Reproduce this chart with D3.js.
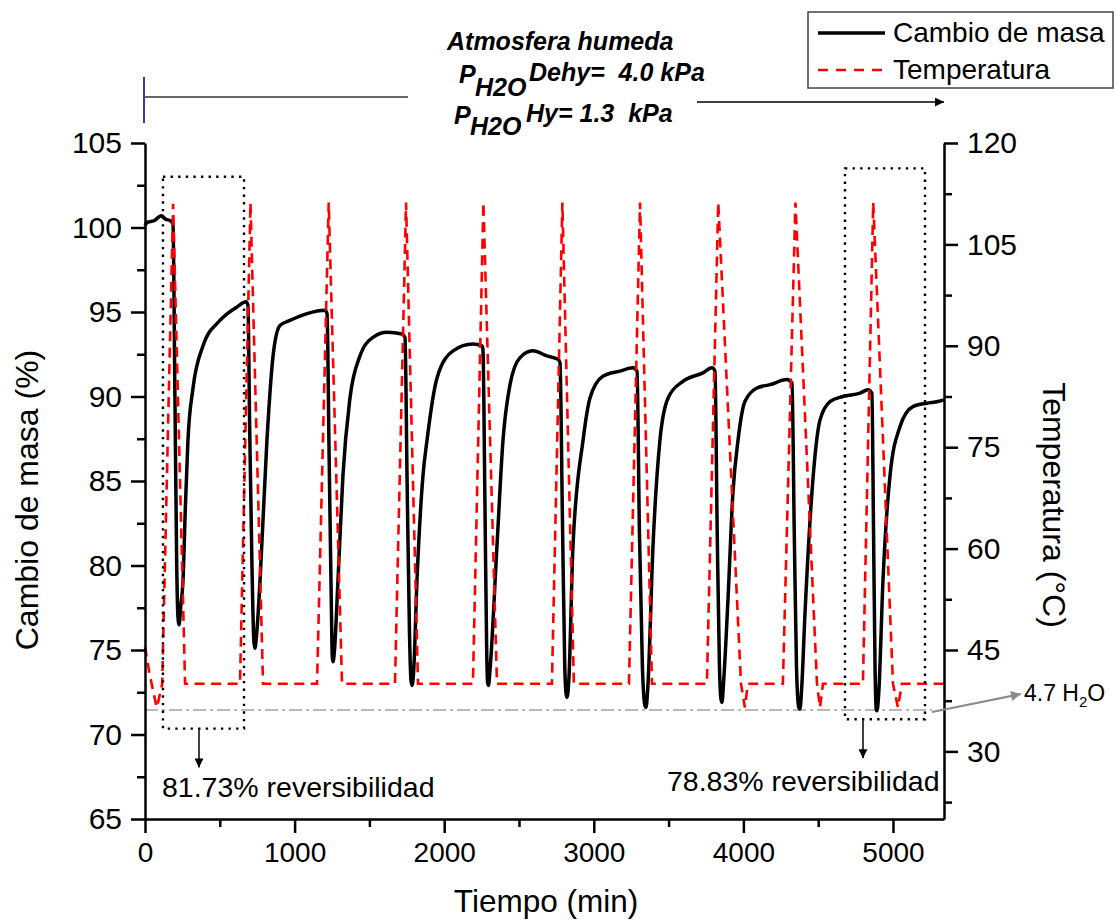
<!DOCTYPE html>
<html><head><meta charset="utf-8">
<script src="https://cdn.jsdelivr.net/npm/d3@7"></script>
<style>
body{margin:0;background:#fff}
svg{display:block}
text{font-family:"Liberation Sans",Arial,sans-serif;fill:#000}
</style>
</head><body><svg id="c" width="1117" height="920"></svg>
<script>
// ---------------- DATA ----------------
const massTime = [0,15,60,110,135,170,187,
 200,212,220,228,238,254,270,287,321,388,501,615,675,688,
 700,715,728,735,745,769,815,856,902,969,1083,1203,1217,
 1230,1245,1252,1257,1265,1290,1323,1370,1437,1524,1618,1718,1738,
 1752,1768,1778,1785,1795,1818,1858,1885,1952,2059,2192,2253,2259,
 2272,2284,2290,2296,2306,2353,2393,2440,2507,2593,2687,2761,2774,
 2790,2806,2815,2821,2833,2861,2928,2974,3061,3175,3262,3289,
 3305,3325,3340,3349,3360,3396,3442,3496,3596,3730,3790,3810,
 3825,3840,3850,3857,3867,3897,3930,3964,4010,4091,4178,4291,4325,
 4340,4355,4370,4378,4390,4411,4458,4512,4579,4665,4779,4833,4859,
 4870,4880,4888,4893,4905,4933,4980,5046,5133,5227,5300,5341];
const massValue = [100.1,100.3,100.4,100.7,100.5,100.4,100.2,
 90,80,77,76.5,77.5,79.1,83.5,87.4,90.5,93.0,94.5,95.3,95.6,95.4,
 88,80,75.5,75.1,75.8,79.1,87.4,92.4,94.2,94.5,94.9,95.1,94.9,
 87,78,74.6,74.3,74.8,79.1,85.3,89.9,92.4,93.5,93.8,93.7,93.5,
 85,76,73.2,72.9,73.6,79.1,85.3,87.4,91.1,92.7,93.1,93.0,92.8,
 84,75,73.1,72.9,73.8,81.2,87.4,90.7,92.3,92.7,92.4,92.2,92.0,
 83,74,72.4,72.2,73.2,81.2,87.4,89.9,91.2,91.5,91.7,91.5,
 82,74,71.8,71.6,72.6,81.2,87.4,89.9,90.9,91.4,91.7,91.5,
 82,74,72.1,71.9,73.0,78.0,84.3,87.4,89.7,90.5,90.7,91.0,90.8,
 82,74,71.6,71.5,72.8,77.0,84.3,88.6,89.7,90.0,90.2,90.4,90.2,
 82,74,71.5,71.4,72.5,79.1,85.3,88.2,89.4,89.6,89.7,89.8];

const tempTime = [0,30,78,90,115,188,268,
 635,705,789,
 1150,1228,1317,
 1671,1745,1825,
 2192,2262,2353,
 2720,2790,2867,
 3235,3309,3389,
 3756,3832,3984,4010,4030,
 4264,4348,4492,4512,4532,
 4799,4868,5000,5033,5060,
 5341];
const tempValue = [45.5,41.5,36.5,37.5,40,111,40,
 40,111.2,40,
 40,111.2,40,
 40,111.2,40,
 40,111.2,40,
 40,111.2,40,
 40,111.2,40,
 40,111.2,40,36.5,40,
 40,111.2,40,36.5,40,
 40,111.2,40,36.5,40,
 40];

const xTicks = [0,1000,2000,3000,4000,5000];
const xMinorTicks = [500,1500,2500,3500,4500];
const massTicks = [65,70,75,80,85,90,95,100,105];
const massMinorTicks = [67.5,72.5,77.5,82.5,87.5,92.5,97.5,102.5];
const tempTicks = [30,45,60,75,90,105,120];
const tempMinorTicks = [22.5,37.5,52.5,67.5,82.5,97.5,112.5];

const seriesNames = ["Cambio de masa","Temperatura"];
const axisTitles = ["Tiempo (min)","Cambio de masa (%)","Temperatura (°C)"];
const reversibilityLabels = ["81.73% reversibilidad","78.83% reversibilidad"];
const referenceMass = [71.45];
// highlighted windows: [t0, t1, massTop, massBottom]
const windowBoxes = [[120,662,103.0,70.35],[4679,5214,103.5,70.9]];

// ---------------- CHART ----------------
const svg = d3.select("#c");
const X0=145, X1=944, Y0=819, Y1=143;
const x = d3.scaleLinear().domain([0,5341]).range([X0,X1]);
const yM = d3.scaleLinear().domain([65,105]).range([Y0,Y1]);
const yT = d3.scaleLinear().domain([20,120]).range([Y0,Y1]);

const defs = svg.append("defs");
function marker(id,color,w,h){
  defs.append("marker").attr("id",id).attr("viewBox","0 0 10 10")
   .attr("refX",10).attr("refY",5).attr("markerUnits","userSpaceOnUse")
   .attr("markerWidth",w).attr("markerHeight",h).attr("orient","auto")
   .append("path").attr("d","M0,0L10,5L0,10z").attr("fill",color);
}
marker("ab","#000",14,9);
marker("ag","#8a8a8a",18,10);
marker("at","#000",18,9);

// reference dash-dot line
svg.append("line").attr("x1",X0).attr("x2",X1-12)
  .attr("y1",yM(referenceMass[0])).attr("y2",yM(referenceMass[0]))
  .attr("stroke","#b9b9b9").attr("stroke-width",2.2).attr("stroke-dasharray","13,4,3,4");

// mass curve
const massPts = massTime.map((t,i)=>[t,massValue[i]]);
svg.append("path").datum(massPts)
  .attr("d",d3.line().x(d=>x(d[0])).y(d=>yM(d[1])).curve(d3.curveMonotoneX))
  .attr("fill","none").attr("stroke","#000").attr("stroke-width",3.5).attr("stroke-linejoin","round");

// temperature curve
const tempPts = tempTime.map((t,i)=>[t,tempValue[i]]);
svg.append("path").datum(tempPts)
  .attr("d",d3.line().x(d=>x(d[0])).y(d=>yT(d[1])))
  .attr("fill","none").attr("stroke","#ff0000").attr("stroke-width",2.6).attr("stroke-dasharray","10,6.5");

// dotted boxes
windowBoxes.forEach(b=>{
  svg.append("rect").attr("x",x(b[0])).attr("y",yM(b[2]))
   .attr("width",x(b[1])-x(b[0])).attr("height",yM(b[3])-yM(b[2]))
   .attr("fill","none").attr("stroke","#000").attr("stroke-width",2.4).attr("stroke-dasharray","2.4,5.2");
});

// axes
function styleAxis(g,size){
  g.select(".domain").attr("stroke","#000").attr("stroke-width",2.5);
  g.selectAll(".tick line").attr("stroke","#000").attr("stroke-width",2.5);
  g.selectAll(".tick text").attr("font-size",size).attr("fill","#000")
   .attr("font-family",'"Liberation Sans",Arial,sans-serif');
}
const gx = svg.append("g").attr("transform",`translate(0,${Y0})`)
  .call(d3.axisBottom(x).tickValues(xTicks).tickFormat(d3.format("d")).tickSize(14).tickSizeOuter(0).tickPadding(9));
styleAxis(gx,28);
const gxm = svg.append("g").attr("transform",`translate(0,${Y0})`)
  .call(d3.axisBottom(x).tickValues(xMinorTicks).tickFormat("").tickSize(8).tickSizeOuter(0));
styleAxis(gxm,28); gxm.select(".domain").remove();

const gl = svg.append("g").attr("transform",`translate(${X0},0)`)
  .call(d3.axisLeft(yM).tickValues(massTicks).tickSize(14).tickSizeOuter(0).tickPadding(9));
styleAxis(gl,30);
const glm = svg.append("g").attr("transform",`translate(${X0},0)`)
  .call(d3.axisLeft(yM).tickValues(massMinorTicks).tickFormat("").tickSize(8).tickSizeOuter(0));
styleAxis(glm,30); glm.select(".domain").remove();

const gr = svg.append("g").attr("transform",`translate(${X1},0)`)
  .call(d3.axisRight(yT).tickValues(tempTicks).tickSize(14).tickSizeOuter(0).tickPadding(9));
styleAxis(gr,30);
const grm = svg.append("g").attr("transform",`translate(${X1},0)`)
  .call(d3.axisRight(yT).tickValues(tempMinorTicks).tickFormat("").tickSize(8).tickSizeOuter(0));
styleAxis(grm,30); grm.select(".domain").remove();

// axis titles
svg.append("text").attr("x",546).attr("y",912).attr("text-anchor","middle")
  .attr("font-size",31.5).text(axisTitles[0]);
svg.append("text").attr("transform","translate(38,500) rotate(-90)").attr("text-anchor","middle")
  .attr("font-size",32).text(axisTitles[1]);
svg.append("text").attr("transform","translate(1043,505) rotate(90)").attr("text-anchor","middle")
  .attr("font-size",32).text(axisTitles[2]);

// reversibility annotations
const arrowX = [199,863];
const boxBottoms = windowBoxes.map(b=>yM(b[3]));
[0,1].forEach(i=>{
  svg.append("line").attr("x1",arrowX[i]).attr("x2",arrowX[i])
    .attr("y1",boxBottoms[i]+1).attr("y2",boxBottoms[i]+39)
    .attr("stroke","#000").attr("stroke-width",1.5).attr("marker-end","url(#ab)");
});
svg.append("text").attr("x",162).attr("y",797).attr("font-size",28.5).text(reversibilityLabels[0]);
svg.append("text").attr("x",667).attr("y",791).attr("font-size",28.5).text(reversibilityLabels[1]);

// 4.7 H2O arrow
svg.append("line").attr("x1",932).attr("y1",yM(referenceMass[0])+2).attr("x2",1021).attr("y2",694)
  .attr("stroke","#8a8a8a").attr("stroke-width",2).attr("marker-end","url(#ag)");
const t47 = svg.append("text").attr("x",1024).attr("y",701).attr("font-size",23);
t47.append("tspan").text("4.7 H");
t47.append("tspan").attr("font-size",15).attr("dy",6).text("2");
t47.append("tspan").attr("dy",-6).text("O");

// top annotation
svg.append("line").attr("x1",144).attr("x2",144).attr("y1",77).attr("y2",123)
  .attr("stroke","#3c3ca8").attr("stroke-width",2);
svg.append("line").attr("x1",145).attr("x2",408).attr("y1",97).attr("y2",97)
  .attr("stroke","#333").attr("stroke-width",1.5);
svg.append("line").attr("x1",697).attr("x2",944).attr("y1",102).attr("y2",102)
  .attr("stroke","#000").attr("stroke-width",1.5).attr("marker-end","url(#at)");

const bi = s=>s.attr("font-weight","bold").attr("font-style","italic");
bi(svg.append("text").attr("x",447).attr("y",50).attr("font-size",25).text("Atmosfera humeda"));
const l2 = bi(svg.append("text").attr("font-size",25).attr("xml:space","preserve").style("white-space","pre"));
l2.append("tspan").attr("x",459).attr("y",83).text("P");
l2.append("tspan").attr("x",475).attr("y",96).text("H2O");
l2.append("tspan").attr("x",529).attr("y",81).text("Dehy=  4.0 kPa");
const l3 = bi(svg.append("text").attr("font-size",25).attr("xml:space","preserve").style("white-space","pre"));
l3.append("tspan").attr("x",454).attr("y",124).text("P");
l3.append("tspan").attr("x",470).attr("y",135).text("H2O");
l3.append("tspan").attr("x",526).attr("y",122).text("Hy= 1.3  kPa");

// legend
svg.append("rect").attr("x",808).attr("y",12).attr("width",305).attr("height",76)
  .attr("fill","#fff").attr("stroke","#444").attr("stroke-width",1.5);
svg.append("line").attr("x1",818).attr("x2",885).attr("y1",33).attr("y2",33)
  .attr("stroke","#000").attr("stroke-width",3.5);
svg.append("line").attr("x1",818).attr("x2",885).attr("y1",70).attr("y2",70)
  .attr("stroke","#ff0000").attr("stroke-width",2.6).attr("stroke-dasharray","10,8");
svg.append("text").attr("x",893).attr("y",42).attr("font-size",28).text(seriesNames[0]);
svg.append("text").attr("x",893).attr("y",79).attr("font-size",28).text(seriesNames[1]);
</script></body></html>
